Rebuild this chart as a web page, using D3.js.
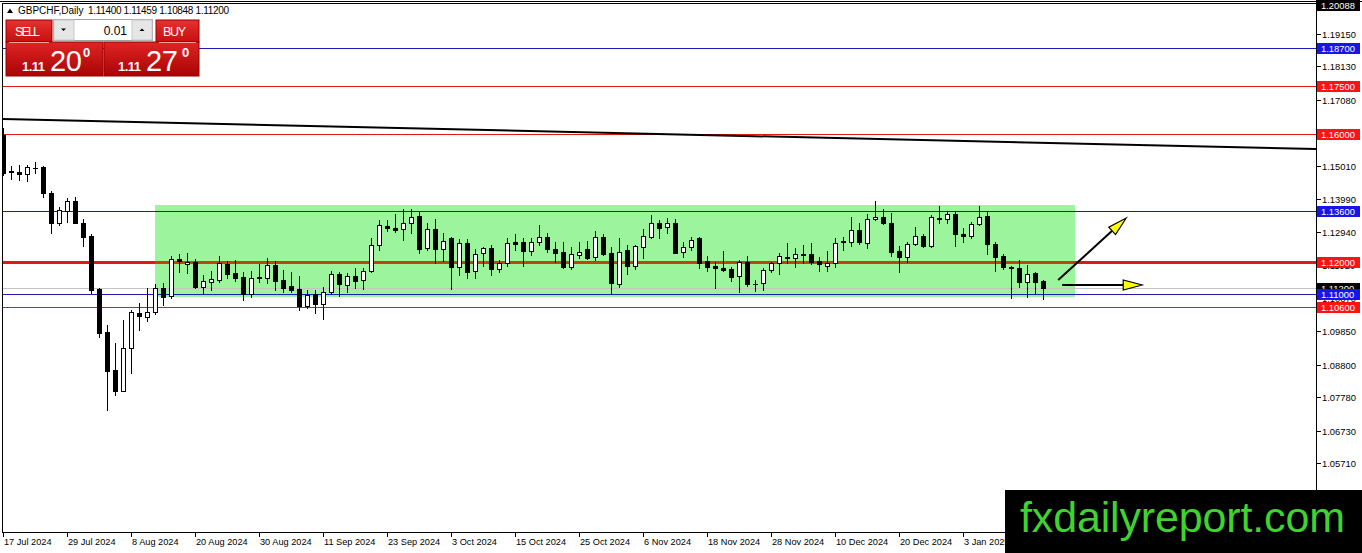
<!DOCTYPE html>
<html><head><meta charset="utf-8">
<script src="https://cdn.jsdelivr.net/npm/d3@7"></script>
<style>body{margin:0;background:#fff;overflow:hidden}svg{display:block;font-family:"Liberation Sans",Arial,sans-serif}</style>
</head><body><svg id="c" width="1362" height="553"></svg>
<script>
// ---------------- data ----------------
const symbolTitle = "GBPCHF,Daily";
const lastOHLC = [1.11400, 1.11459, 1.10848, 1.11200];
const startDate = "2024-07-17";
const holidays = ["2024-12-25", "2025-01-01"];
const opens = [1.15979,1.14853,1.14821,1.14759,1.14946,1.14977,1.14164,1.13226,1.13601,1.13914,1.13226,1.12819,1.11161,1.09816,1.08628,1.07971,1.09316,1.10411,1.10285,1.10442,1.11193,1.10943,1.12100,1.11944,1.12006,1.11224,1.11380,1.11443,1.11944,1.11662,1.11537,1.11005,1.11537,1.11506,1.11912,1.11443,1.11255,1.11161,1.10630,1.11005,1.10692,1.11068,1.11631,1.11287,1.11568,1.11443,1.11725,1.12538,1.13132,1.13070,1.13038,1.13226,1.13445,1.12444,1.13038,1.12413,1.12757,1.11850,1.12600,1.11725,1.12288,1.12444,1.11787,1.11975,1.12632,1.12632,1.12350,1.12632,1.12788,1.12413,1.12319,1.11850,1.12225,1.12413,1.12162,1.12788,1.12288,1.11318,1.12381,1.11881,1.12475,1.12788,1.13226,1.13101,1.13226,1.12319,1.12475,1.12757,1.12037,1.11881,1.11818,1.11787,1.11568,1.12006,1.11318,1.11349,1.11756,1.11975,1.12162,1.12131,1.12256,1.12256,1.12037,1.11881,1.11975,1.12663,1.12632,1.13007,1.12600,1.13351,1.13414,1.13226,1.12350,1.12162,1.12569,1.12819,1.12506,1.13382,1.13351,1.13508,1.12882,1.12819,1.13195,1.13445,1.12569,1.12194,1.11850,1.11818,1.11380,1.11662,1.11400];
const highs = [1.16198,1.15009,1.15040,1.15040,1.15134,1.15009,1.14227,1.13726,1.14008,1.14039,1.13351,1.12882,1.11193,1.10035,1.09472,1.10192,1.10505,1.10724,1.11193,1.11318,1.11349,1.12194,1.12256,1.12288,1.12100,1.11599,1.11725,1.12194,1.12037,1.12069,1.11693,1.11725,1.11944,1.12131,1.12037,1.11756,1.11693,1.11568,1.11130,1.11130,1.11224,1.11725,1.11693,1.11662,1.11818,1.11818,1.12757,1.13320,1.13320,1.13508,1.13664,1.13664,1.13570,1.13226,1.13351,1.12913,1.12788,1.12725,1.12725,1.12413,1.12475,1.12538,1.12069,1.12757,1.12882,1.12757,1.12757,1.13163,1.12913,1.12632,1.12632,1.12475,1.12632,1.12663,1.12976,1.12882,1.12475,1.12757,1.12538,1.12538,1.13038,1.13476,1.13320,1.13382,1.13351,1.12632,1.12788,1.12788,1.12194,1.12006,1.12350,1.11850,1.12069,1.12194,1.11443,1.11818,1.12006,1.12288,1.12600,1.12444,1.12538,1.12600,1.12162,1.12350,1.12757,1.12788,1.13414,1.13226,1.13508,1.13914,1.13664,1.13539,1.12506,1.12632,1.13101,1.12882,1.13476,1.13758,1.13601,1.13601,1.13070,1.13257,1.13758,1.13601,1.12632,1.12256,1.11881,1.12069,1.11912,1.11693,1.11459];
const lows = [1.14727,1.14602,1.14571,1.14540,1.14790,1.14039,1.12913,1.13163,1.13257,1.13220,1.12506,1.11036,1.09660,1.07377,1.07846,1.07960,1.08534,1.09879,1.10160,1.10379,1.10661,1.10880,1.11693,1.11662,1.11193,1.11005,1.11130,1.11380,1.11506,1.11412,1.10817,1.10911,1.11380,1.11349,1.11130,1.11068,1.11068,1.10505,1.10567,1.10411,1.10223,1.11005,1.10943,1.11068,1.11193,1.11161,1.11693,1.12381,1.12976,1.12944,1.12694,1.12913,1.12288,1.12381,1.11975,1.12037,1.11161,1.11599,1.11506,1.11506,1.11881,1.11599,1.11693,1.11881,1.12381,1.11881,1.12225,1.12538,1.12319,1.12006,1.11818,1.11787,1.12131,1.12100,1.12069,1.12225,1.11005,1.11224,1.11631,1.11787,1.12131,1.12757,1.12757,1.12913,1.12280,1.12162,1.12381,1.11818,1.11725,1.11193,1.11725,1.11412,1.11068,1.11255,1.11099,1.11130,1.11693,1.11631,1.11975,1.11850,1.11975,1.11944,1.11725,1.11725,1.11850,1.12381,1.12506,1.12569,1.12444,1.13320,1.13195,1.12194,1.11693,1.12006,1.12538,1.12475,1.12475,1.13226,1.13226,1.12506,1.12632,1.12757,1.13163,1.12256,1.11725,1.11787,1.10880,1.11224,1.10911,1.11036,1.10848];
const closes = [1.14790,1.14821,1.14759,1.14977,1.14950,1.14164,1.13226,1.13633,1.13914,1.13226,1.12788,1.11130,1.09785,1.08597,1.07971,1.09316,1.10442,1.10317,1.10442,1.11193,1.10911,1.12100,1.12037,1.12006,1.11224,1.11412,1.11474,1.11975,1.11631,1.11506,1.11005,1.11506,1.11506,1.11912,1.11412,1.11193,1.11130,1.10630,1.10974,1.10692,1.11068,1.11631,1.11318,1.11568,1.11412,1.11725,1.12538,1.13163,1.13070,1.13007,1.13226,1.13414,1.12413,1.13038,1.12413,1.12663,1.11850,1.12600,1.11693,1.12256,1.12444,1.11787,1.11975,1.12600,1.12569,1.12350,1.12632,1.12788,1.12413,1.12288,1.11850,1.12256,1.12319,1.12131,1.12788,1.12256,1.11349,1.12319,1.11881,1.12506,1.12819,1.13226,1.13070,1.13226,1.12288,1.12475,1.12694,1.11975,1.11850,1.11818,1.11756,1.11537,1.12006,1.11318,1.11310,1.11756,1.11975,1.12194,1.12131,1.12256,1.12225,1.12006,1.11944,1.11975,1.12600,1.12632,1.13007,1.12632,1.13351,1.13414,1.13226,1.12319,1.12162,1.12569,1.12819,1.12506,1.13414,1.13351,1.13508,1.12882,1.12819,1.13195,1.13414,1.12569,1.12162,1.11850,1.11818,1.11380,1.11631,1.11380,1.11200];
const dateTicks = ["17 Jul 2024","29 Jul 2024","8 Aug 2024","20 Aug 2024","30 Aug 2024","11 Sep 2024","23 Sep 2024","3 Oct 2024","15 Oct 2024","25 Oct 2024","6 Nov 2024","18 Nov 2024","28 Nov 2024","10 Dec 2024","20 Dec 2024","3 Jan 2025"];
const priceTicks = [1.19150,1.18130,1.17080,1.16050,1.15010,1.13990,1.12940,1.11920,1.10870,1.09850,1.08800,1.07780,1.06730,1.05710];
const chartMax = 1.20088;
const levelPrices = [1.18700,1.17500,1.16000,1.13600,1.12000,1.11000,1.10600];
const levelKinds  = ["blue","red","red","blue","red","blue","red"];
const levelWidths = [1,1,1,1,3,1,1];
const bidPrice = 1.11200;
const zoneBars = [19, 134];
const zonePrices = [1.13790, 1.10910];
const trendBars = [0, 164];
const trendPrices = [1.16479, 1.15541];
const arrowFromBars = [131.9, 132.4];
const arrowFromPrices = [1.11443, 1.11287];
const arrowToBars = [140.4, 142.4];
const arrowToPrices = [1.13382, 1.11287];
const lotSize = "0.01";
const sellQuote = ["1.11","20","0"];
const buyQuote = ["1.11","27","0"];
const watermark = "fxdailyreport.com";

// ---------------- setup ----------------
const svg = d3.select("#c");
const PL = 2, PR = 1316, PT = 3, PB = 532;
const x = d3.scaleLinear().domain([0, 130]).range([3, 1043]);
const y = d3.scaleLinear().domain([1.187, 1.106]).range([48, 307]);
const col = {red:"#e01818", blue:"#1c1cb8", redLab:"#ff1212", blueLab:"#1616e8"};

// trading dates
const parse = d3.timeParse("%Y-%m-%d"), fmtKey = d3.timeFormat("%Y-%m-%d"), fmtLab = d3.timeFormat("%-d %b %Y");
const dates = [];
let d = parse(startDate);
while (dates.length < opens.length) {
  const wd = d.getDay();
  if (wd !== 0 && wd !== 6 && !holidays.includes(fmtKey(d))) dates.push(new Date(d));
  d = d3.timeDay.offset(d, 1);
}
const bars = opens.map((o,i)=>({i, o, h:highs[i], l:lows[i], c:closes[i], date:dates[i]}));

svg.append("rect").attr("width",1362).attr("height",553).attr("fill","#fff");
svg.append("defs").append("clipPath").attr("id","pc").append("rect")
  .attr("x",PL+1).attr("y",PT+1).attr("width",PR-PL-1).attr("height",PB-PT-1);
const g = svg.append("g").attr("clip-path","url(#pc)");

// zone
g.append("rect").attr("x",x(zoneBars[0])).attr("y",y(zonePrices[0]))
  .attr("width",x(zoneBars[1])-x(zoneBars[0])).attr("height",y(zonePrices[1])-y(zonePrices[0]))
  .attr("fill","#9cf59c");

// bid line
g.append("line").attr("x1",PL).attr("x2",PR).attr("y1",Math.round(y(bidPrice))+0.5).attr("y2",Math.round(y(bidPrice))+0.5)
  .attr("stroke","#c4c4c4").attr("stroke-width",1);

// levels
levelPrices.forEach((p,k)=>{
  const w = levelWidths[k];
  const yy = Math.round(y(p)) + (w%2 ? 0.5 : 0);
  g.append("line").attr("x1",PL).attr("x2",PR).attr("y1",yy).attr("y2",yy)
    .attr("stroke", col[levelKinds[k]]).attr("stroke-width", w).attr("shape-rendering","crispEdges");
  if (w > 1) {
    g.append("line").attr("x1",x(zoneBars[0])).attr("x2",x(zoneBars[1])).attr("y1",yy).attr("y2",yy)
      .attr("stroke","#b8480e").attr("stroke-width", w).attr("shape-rendering","crispEdges");
  }
});

// trendline (extended to right edge)
const slope = (trendPrices[1]-trendPrices[0])/(trendBars[1]-trendBars[0]);
const bL = x.invert(PL), bR = x.invert(PR);
g.append("line")
  .attr("x1",PL).attr("y1",y(trendPrices[0]+slope*(bL-trendBars[0])))
  .attr("x2",PR).attr("y2",y(trendPrices[0]+slope*(bR-trendBars[0])))
  .attr("stroke","#000").attr("stroke-width",2);

// candles
const cg = g.append("g");
bars.forEach(b=>{
  const cx = Math.round(x(b.i));
  const up = b.c >= b.o;
  const yh = Math.round(y(b.h)), yl = Math.round(y(b.l));
  cg.append("rect").attr("x",cx).attr("y",yh).attr("width",1).attr("height",Math.max(1,yl-yh+1)).attr("fill","#000");
  const yt = Math.round(y(Math.max(b.o,b.c))), yb = Math.round(y(Math.min(b.o,b.c)));
  if (up && yb - yt >= 2) {
    cg.append("rect").attr("x",cx-1.5).attr("y",yt+0.5).attr("width",4).attr("height",yb-yt)
      .attr("fill","#fff").attr("stroke","#000").attr("stroke-width",1);
  } else {
    cg.append("rect").attr("x",cx-2).attr("y",yt).attr("width",5).attr("height",Math.max(1,yb-yt+1)).attr("fill","#000");
  }
});

// arrows
arrowFromBars.forEach((fb,k)=>{
  const x1 = x(fb), y1 = y(arrowFromPrices[k]), x2 = x(arrowToBars[k]), y2 = y(arrowToPrices[k]);
  const ang = Math.atan2(y2-y1, x2-x1), L = 19, hw = 5;
  const bx = x2 - L*Math.cos(ang), by = y2 - L*Math.sin(ang);
  svg.append("line").attr("x1",x1).attr("y1",y1).attr("x2",bx).attr("y2",by).attr("stroke","#000").attr("stroke-width",2);
  const px = -Math.sin(ang)*hw, py = Math.cos(ang)*hw;
  svg.append("path").attr("d",`M${x2},${y2}L${bx+px},${by+py}L${bx-px},${by-py}Z`)
    .attr("fill","#ffff00").attr("stroke","#000").attr("stroke-width",1.2).attr("stroke-linejoin","miter");
});

// frame
svg.append("line").attr("x1",0).attr("x2",1362).attr("y1",1.5).attr("y2",1.5).attr("stroke","#000");
svg.append("line").attr("x1",PL).attr("x2",PR).attr("y1",PT+0.5).attr("y2",PT+0.5).attr("stroke","#000");
svg.append("line").attr("x1",PL+0.5).attr("x2",PL+0.5).attr("y1",PT).attr("y2",PB).attr("stroke","#000");
svg.append("line").attr("x1",PR+0.5).attr("x2",PR+0.5).attr("y1",0).attr("y2",PB+1).attr("stroke","#000");
svg.append("line").attr("x1",PL).attr("x2",PR+1).attr("y1",PB+0.5).attr("y2",PB+0.5).attr("stroke","#000");

// price axis ticks
const ax = svg.append("g").attr("font-size","9.4px");
priceTicks.forEach(p=>{
  const yy = Math.round(y(p))+0.5;
  ax.append("line").attr("x1",PR+1).attr("x2",PR+5).attr("y1",yy).attr("y2",yy).attr("stroke","#000");
  ax.append("text").attr("x",1322).attr("y",yy).attr("dy","0.35em").attr("fill","#000").text(p.toFixed(5));
});
function priceLabel(p, fill, yy){
  ax.append("rect").attr("x",PR+1).attr("y",yy-5).attr("width",43).attr("height",11).attr("fill",fill);
  ax.append("text").attr("x",1321).attr("y",yy+0.5).attr("dy","0.35em").attr("fill","#fff").text(p.toFixed(5));
}
priceLabel(bidPrice, "#000", Math.round(y(bidPrice)));
levelPrices.forEach((p,k)=>priceLabel(p, levelKinds[k]==="red"?col.redLab:col.blueLab, Math.round(y(p))));
priceLabel(chartMax, "#000", 5);

// date axis
const dx = svg.append("g").attr("font-size","9.2px");
bars.filter(b=>dateTicks.includes(fmtLab(b.date))).forEach(b=>{
  const xx = Math.round(x(b.i))+0.5;
  dx.append("line").attr("x1",xx).attr("x2",xx).attr("y1",PB).attr("y2",PB+5).attr("stroke","#000");
  dx.append("text").attr("x",xx+0.5).attr("y",545).attr("fill","#000").text(fmtLab(b.date));
});

// title
svg.append("path").attr("d","M7,13L10,8.5L13,13Z").attr("fill","#000");
svg.append("text").attr("x",18).attr("y",14).attr("font-size","10px").text(symbolTitle);
svg.append("text").attr("x",88).attr("y",14).attr("font-size","10px").attr("textLength",141)
  .text(lastOHLC.map(v=>v.toFixed(5)).join(" "));

// trade panel
const defs = svg.select("defs");
const gr = defs.append("linearGradient").attr("id","rg").attr("x1",0).attr("y1",0).attr("x2",0).attr("y2",1);
gr.append("stop").attr("offset","0").attr("stop-color","#e02424");
gr.append("stop").attr("offset","1").attr("stop-color","#a80404");
const gh = defs.append("linearGradient").attr("id","rh").attr("x1",0).attr("y1",0).attr("x2",0).attr("y2",1);
gh.append("stop").attr("offset","0").attr("stop-color","#e83030");
gh.append("stop").attr("offset","1").attr("stop-color","#c41010");
const tp = svg.append("g");
// sell
tp.append("rect").attr("x",6).attr("y",20).attr("width",46).attr("height",22).attr("fill","url(#rh)").attr("stroke","#9a0000");
tp.append("rect").attr("x",6).attr("y",42).attr("width",97).attr("height",34).attr("fill","url(#rg)").attr("stroke","#9a0000");
tp.append("line").attr("x1",9).attr("x2",49).attr("y1",42.5).attr("y2",42.5).attr("stroke","#f2a0a0");
tp.append("text").attr("x",15).attr("y",36).attr("font-size","12.5px").attr("fill","#fff").attr("textLength",25).text("SELL");
// buy
tp.append("rect").attr("x",156).attr("y",20).attr("width",43).attr("height",22).attr("fill","url(#rh)").attr("stroke","#9a0000");
tp.append("rect").attr("x",104).attr("y",42).attr("width",95).attr("height",34).attr("fill","url(#rg)").attr("stroke","#9a0000");
tp.append("line").attr("x1",159).attr("x2",196).attr("y1",42.5).attr("y2",42.5).attr("stroke","#f2a0a0");
tp.append("text").attr("x",163).attr("y",36).attr("font-size","12.5px").attr("fill","#fff").attr("textLength",23).text("BUY");
// quotes
function quote(q, x0, x1, x2){
  tp.append("text").attr("x",x0).attr("y",71).attr("font-size","13px").attr("font-weight","bold").attr("fill","#fff").attr("textLength",23).text(q[0]);
  tp.append("text").attr("x",x1).attr("y",70.5).attr("font-size","29px").attr("fill","#fff").attr("textLength",32).text(q[1]);
  tp.append("text").attr("x",x2).attr("y",57).attr("font-size","13px").attr("font-weight","bold").attr("fill","#fff").text(q[2]);
}
quote(sellQuote, 22, 50, 83);
quote(buyQuote, 118, 146, 182);
// lot spinner
tp.append("rect").attr("x",53.5).attr("y",19.5).attr("width",99).attr("height",21).attr("fill","#fff").attr("stroke","#a0a0a0");
tp.append("rect").attr("x",54).attr("y",20).attr("width",20).attr("height",20).attr("fill","#e6e6e6").attr("stroke","#c8c8c8");
tp.append("rect").attr("x",132).attr("y",20).attr("width",20).attr("height",20).attr("fill","#e6e6e6").attr("stroke","#c8c8c8");
tp.append("path").attr("d","M61,28.5L66,28.5L63.5,31Z").attr("fill","#000");
tp.append("path").attr("d","M139.5,31L144.5,31L142,28.5Z").attr("fill","#000");
tp.append("text").attr("x",127).attr("y",34.5).attr("text-anchor","end").attr("font-size","12px").attr("fill","#000").text(lotSize);

// watermark
svg.append("rect").attr("x",1005).attr("y",490).attr("width",357).attr("height",63).attr("fill","#000");
svg.append("text").attr("x",1020).attr("y",532).attr("font-size","43px").attr("fill","#40d22e").attr("textLength",325).text(watermark);
</script></body></html>
